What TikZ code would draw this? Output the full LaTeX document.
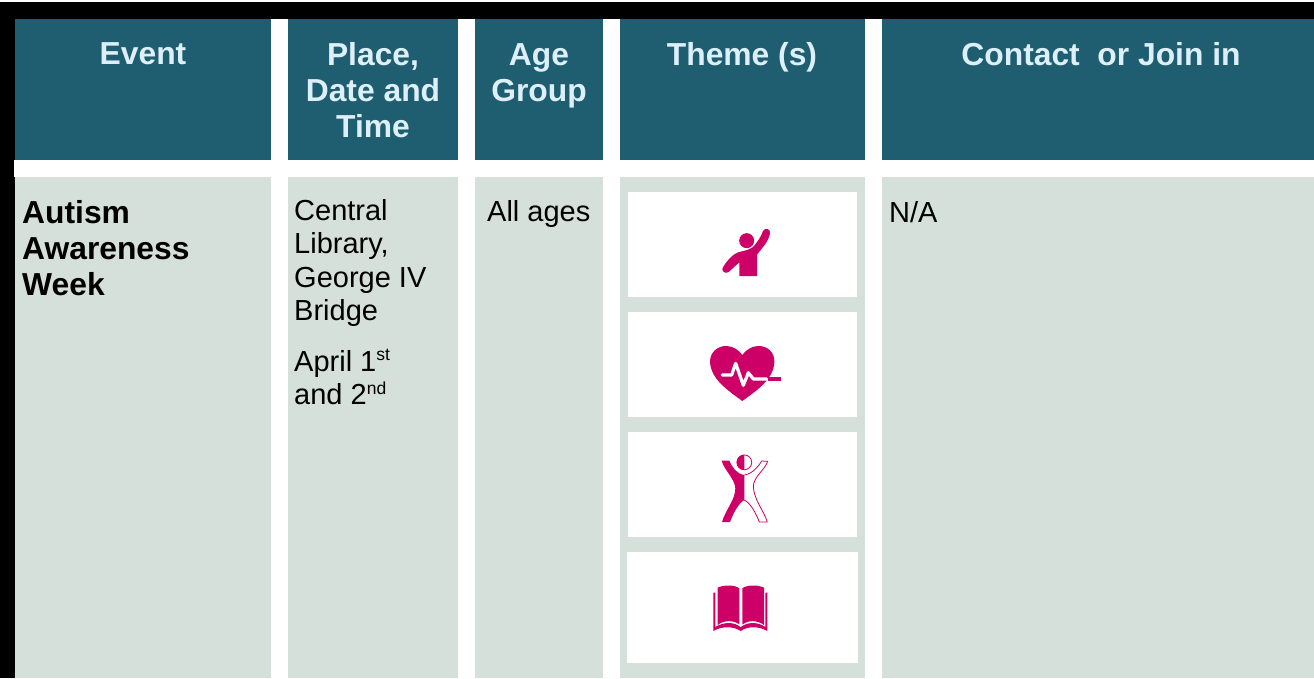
\documentclass[tikz,border=0pt]{standalone}
\usepackage{fontspec}
\setmainfont{Liberation Sans}
\definecolor{teal}{HTML}{1F5E70}
\definecolor{cell}{HTML}{D6E0DB}
\definecolor{headtxt}{HTML}{DDF0FA}
\definecolor{mag}{HTML}{CC0066}
\newcommand{\supr}[1]{\smash{\raisebox{10.5pt}{\fontsize{17.5}{17.5}\selectfont #1}}}
\tikzset{
  headbox/.style={fill=teal,draw=none},
  cellbox/.style={fill=cell,draw=none},
  iconbox/.style={fill=white,draw=none},
  headtext/.style={text=headtxt,font=\fontsize{31.8}{36}\selectfont\bfseries,align=center,anchor=north,inner sep=0pt},
  bodytext/.style={text=black,font=\fontsize{29}{33.5}\selectfont,align=left,anchor=north west,inner sep=0pt},
  boldtext/.style={text=black,font=\fontsize{31.8}{36}\selectfont\bfseries,align=left,anchor=north west,inner sep=0pt},
  icon/.style={fill=mag,draw=none}
}
\begin{document}
\begin{tikzpicture}[x=1pt,y=-1pt]
\useasboundingbox (0,0) rectangle (1314,678);
\fill[white] (0,0) rectangle (1314,678);
\fill[black] (0,2) rectangle (1314,19);
\fill[black] (0,2) rectangle (15,678);
\fill[white] (14,160) rectangle (1314,177);
% headers
\fill[headbox] (15,19) rectangle (271,160);
\fill[headbox] (288,19) rectangle (458,160);
\fill[headbox] (475,19) rectangle (603,160);
\fill[headbox] (620,19) rectangle (865,160);
\fill[headbox] (882,19) rectangle (1314,160);
% cells
\fill[cellbox] (15,177) rectangle (271,678);
\fill[cellbox] (288,177) rectangle (458,678);
\fill[cellbox] (475,177) rectangle (603,678);
\fill[cellbox] (620,177) rectangle (865,678);
\fill[cellbox] (882,177) rectangle (1314,678);
% icon panels
\fill[iconbox] (628,192) rectangle (857,297);
\fill[iconbox] (628,312) rectangle (857,417);
\fill[iconbox] (628,432) rectangle (857,537);
\fill[iconbox] (627,552) rectangle (858,663);
% header text
\node[headtext] (hevent) at (143,42) {Event};
\node[headtext] (hplace) at (373,42) {Place,\\Date and\\Time};
\node[headtext] (hage) at (539,43) {Age\\Group};
\node[headtext] (htheme) at (742,42) {Theme (s)};
\node[headtext] (hcontact) at (1101,42) {Contact\ \ or Join in};
% body text
\node[boldtext] (tevent) at (22,200) {Autism\\Awareness\\Week};
\node[bodytext] (tplace) at (294,199) {Central\\Library,\\George IV\\Bridge};
\node[bodytext] (tdate) at (294,350) {April 1\supr{st}\\and 2\supr{nd}};
\node[bodytext] (tage) at (487,200) {All ages};
\node[bodytext] (tcontact) at (889,201) {N/A};
% icon: person waving
\begin{scope}[shift={(620,180)},x=0.33333pt,y=-0.33333pt]
\fill[icon] (380,182) circle [radius=7.5pt];
\fill[icon] (358,288) -- (358,247) -- (326,276)
  .. controls (316,284) and (300,271) .. (310,260)
  .. controls (322,240) and (338,224) .. (352,218)
  .. controls (375,210) and (395,212) .. (408,190)
  .. controls (418,178) and (425,165) .. (429,153)
  .. controls (434,142) and (453,146) .. (450,160)
  .. controls (446,185) and (425,205) .. (411,224)
  -- (411,288) -- cycle;
% icon: heart with pulse
\fill[icon] (367,663) .. controls (325,632) and (272,598) .. (270,545)
  .. controls (270,515) and (295,497) .. (320,498)
  .. controls (340,498) and (358,512) .. (367,525)
  .. controls (376,512) and (394,498) .. (414,498)
  .. controls (440,497) and (464,515) .. (463,545)
  .. controls (462,598) and (409,632) .. (367,663) -- cycle;
\draw[white,line width=3.2pt,line join=round,line cap=round] (307,585) -- (335,585) -- (347,550) -- (370,616) -- (385,578) -- (400,597) -- (440,597);
\draw[mag,line width=3.2pt] (445,597) -- (482,597);
\end{scope}
% icon: half filled figure
\begin{scope}[shift={(620,425)},x=0.33333pt,y=-0.33333pt]
\fill[icon] (373,89) arc[start angle=90,end angle=270,radius=7.67pt] -- cycle;
\draw[mag,line width=0.8pt] (373,112) circle [radius=7.4pt];
\fill[icon] (305,107) -- (328,107) .. controls (335,125) and (350,147) .. (373,150)
  -- (373,225) .. controls (355,235) and (340,265) .. (330,291) -- (306,291)
  .. controls (316,255) and (346,225) .. (346,190)
  .. controls (344,160) and (312,135) .. (305,107) -- cycle;
\draw[mag,line width=0.8pt,line join=round] (373,150) .. controls (396,147) and (415,125) .. (425,108) -- (443,109)
  .. controls (435,135) and (400,155) .. (400,185)
  .. controls (402,225) and (432,258) .. (442,291) -- (418,291)
  .. controls (408,265) and (392,235) .. (373,225);
% icon: open book
\fill[icon] (293,488) .. controls (315,478) and (345,480) .. (358,490) -- (358,598)
  .. controls (340,585) and (312,585) .. (293,600) -- cycle;
\fill[icon] (367,490) .. controls (380,480) and (410,478) .. (432,488) -- (432,600)
  .. controls (412,585) and (385,585) .. (367,598) -- cycle;
\fill[icon] (280,503) -- (286,503) -- (286,606) .. controls (310,590) and (345,590) .. (362,607)
  .. controls (380,590) and (415,590) .. (436,606) -- (436,503) -- (442,503) -- (442,618)
  .. controls (415,603) and (385,603) .. (362,618)
  .. controls (340,603) and (305,603) .. (280,618) -- cycle;
\end{scope}
\end{tikzpicture}
\end{document}
